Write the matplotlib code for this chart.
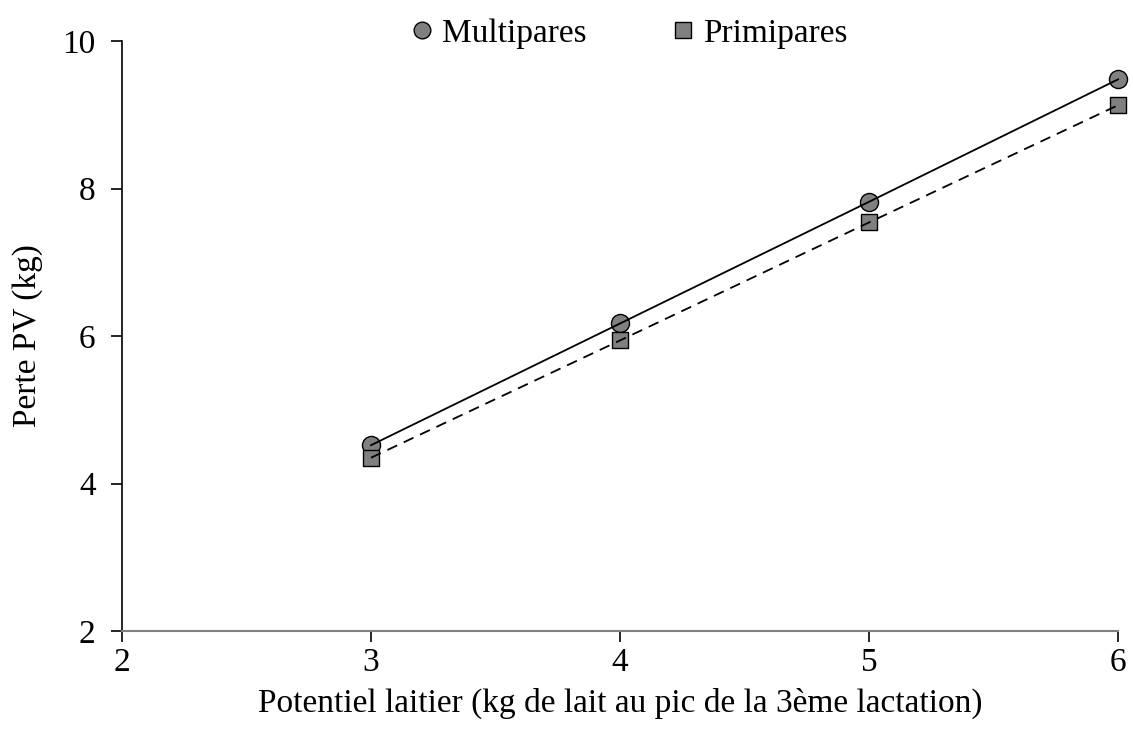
import matplotlib.pyplot as plt
from matplotlib.lines import Line2D

plt.rcParams['font.family'] = ['Liberation Serif', 'DejaVu Serif']

# Données
potentiel = [3, 4, 5, 6]
multipares = [4.52, 6.17, 7.82, 9.48]
primipares = [4.35, 5.94, 7.54, 9.13]

fig = plt.figure(figsize=(11.33, 7.43), dpi=100)
ax = fig.add_axes([0.1077, 0.1507, 0.8791, 0.7941])

# Marqueurs sous les lignes
ax.scatter(potentiel, multipares, s=13**2, marker='o', facecolor='#808080',
           edgecolor='black', linewidth=1, zorder=2, clip_on=False)
ax.scatter(potentiel, primipares, s=11.5**2, marker='s', facecolor='#808080',
           edgecolor='black', linewidth=1, zorder=2, clip_on=False)
ax.plot(potentiel, multipares, color='black', linewidth=1.3, zorder=3, clip_on=False)
ax.plot(potentiel, primipares, color='black', linewidth=1.3, linestyle=(0, (6, 4)),
        zorder=3, clip_on=False)

ax.set_xlim(2, 6)
ax.set_ylim(2, 10)
ax.set_xticks([2, 3, 4, 5, 6])
ax.set_yticks([2, 4, 6, 8, 10])
ax.spines['top'].set_visible(False)
ax.spines['right'].set_visible(False)
ax.spines['bottom'].set_color('#808080')
ax.spines['bottom'].set_linewidth(1.5)
ax.spines['left'].set_linewidth(1.2)
ax.tick_params(axis='both', direction='out', length=8, width=1.2, labelsize=24)
ax.tick_params(axis='x', pad=4)
ax.tick_params(axis='y', pad=11)
ax.set_xlabel('Potentiel laitier (kg de lait au pic de la 3ème lactation)', fontsize=24, labelpad=7)
ax.set_ylabel('Perte PV (kg)', fontsize=24, labelpad=14)

handles = [
    Line2D([], [], linestyle='none', marker='o', markersize=12, markerfacecolor='#808080',
           markeredgecolor='black', label='Multipares'),
    Line2D([], [], linestyle='none', marker='s', markersize=11, markerfacecolor='#808080',
           markeredgecolor='black', label='Primipares'),
]
fig.legend(handles=handles, loc='center', bbox_to_anchor=(0.55, 0.955), ncol=2,
           frameon=False, fontsize=24, handletextpad=-0.1, handlelength=1.4,
           columnspacing=2.2)

plt.savefig('out.png', dpi=100)
